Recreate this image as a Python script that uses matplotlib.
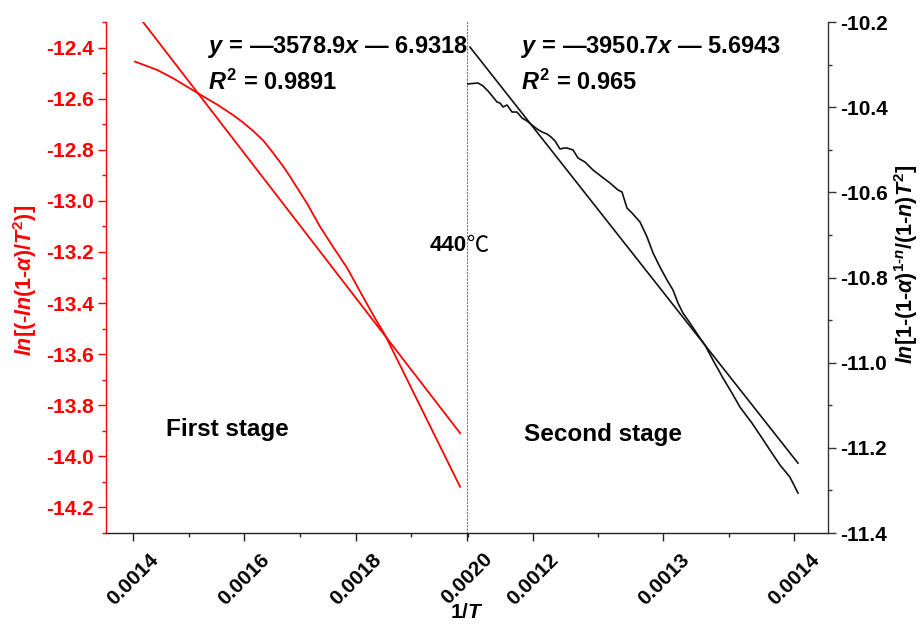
import matplotlib
matplotlib.use('Agg')
import matplotlib.pyplot as plt
from matplotlib.ticker import FixedLocator, AutoMinorLocator

plt.rcParams['font.family'] = ['Liberation Sans', 'DejaVu Sans']
plt.rcParams['font.weight'] = 'bold'
plt.rcParams['mathtext.fontset'] = 'custom'
plt.rcParams['mathtext.rm'] = 'Liberation Sans:bold'
plt.rcParams['mathtext.it'] = 'Liberation Sans:italic:bold'
plt.rcParams['mathtext.bf'] = 'Liberation Sans:bold'
plt.rcParams['axes.unicode_minus'] = False

# ---------------- data ----------------
stage1_x = [0.0014036, 0.0014440, 0.0014719, 0.0015168, 0.0015503, 0.0015797, 0.0015982,
            0.0016156, 0.0016341, 0.0016516, 0.0016701, 0.0016821, 0.0017121, 0.0017360,
            0.0017599, 0.0017845, 0.0018079, 0.0018349, 0.0018528, 0.0019211, 0.0019876]
stage1_y = [-12.455, -12.488, -12.520, -12.579, -12.622, -12.664, -12.694,
            -12.726, -12.764, -12.812, -12.866, -12.905, -13.008, -13.101,
            -13.182, -13.262, -13.355, -13.460, -13.525, -13.826, -14.119]
fit1_x = [0.0014180, 0.0019876]
fit1_y = [-12.300, -13.909]

stage2_x = [0.0011492, 0.0011579, 0.0011617, 0.0011655, 0.0011693, 0.0011724, 0.0011747,
            0.0011770, 0.0011801, 0.0011839, 0.0011877, 0.0011916, 0.0011954, 0.0011992,
            0.0012031, 0.0012069, 0.0012107, 0.0012138, 0.0012169, 0.0012207, 0.0012238,
            0.0012261, 0.0012307, 0.0012345, 0.0012398, 0.0012460, 0.0012529, 0.0012590,
            0.0012651, 0.0012682, 0.0012720, 0.0012759, 0.0012820, 0.0012874, 0.0012920,
            0.0012973, 0.0013027, 0.0013073, 0.0013111, 0.0013149, 0.0013203, 0.0013264,
            0.0013318, 0.0013379, 0.0013456, 0.0013525, 0.0013586, 0.0013678, 0.0013755,
            0.0013831, 0.0013893, 0.0013969, 0.0014031]
stage2_y = [-10.3456, -10.3433, -10.3503, -10.3620, -10.3761, -10.3879, -10.3902,
            -10.3996, -10.3949, -10.4114, -10.4114, -10.4255, -10.4325, -10.4419,
            -10.4513, -10.4583, -10.4630, -10.4701, -10.4795, -10.4983, -10.4959,
            -10.4959, -10.5006, -10.5194, -10.5288, -10.5476, -10.5640, -10.5781,
            -10.5945, -10.5992, -10.6368, -10.6486, -10.6697, -10.7049, -10.7425,
            -10.7754, -10.8059, -10.8294, -10.8599, -10.8834, -10.9069, -10.9351,
            -10.9586, -10.9938, -11.0361, -11.0713, -11.1042, -11.1418, -11.1770,
            -11.2122, -11.2404, -11.2686, -11.3062]
fit2_x = [0.0011517, 0.0014031]
fit2_y = [-10.259, -11.236]

x1_ticks = [0.0014, 0.0016, 0.0018, 0.0020]
x1_labels = ['0.0014', '0.0016', '0.0018', '0.0020']
x2_ticks = [0.0012, 0.0013, 0.0014]
x2_labels = ['0.0012', '0.0013', '0.0014']
y1_ticks = [-14.2, -14.0, -13.8, -13.6, -13.4, -13.2, -13.0, -12.8, -12.6, -12.4]
y1_labels = ['-14.2', '-14.0', '-13.8', '-13.6', '-13.4', '-13.2', '-13.0', '-12.8', '-12.6', '-12.4']
y2_ticks = [-11.4, -11.2, -11.0, -10.8, -10.6, -10.4, -10.2]
y2_labels = ['-11.4', '-11.2', '-11.0', '-10.8', '-10.6', '-10.4', '-10.2']

eq1 = r'$\mathit{y}$ = —3578.9$\mathit{x}$ — 6.9318'
r2_1 = r'$\mathit{R}^2$ = 0.9891'
eq2 = r'$\mathit{y}$ = —3950.7$\mathit{x}$ — 5.6943'
r2_2 = r'$\mathit{R}^2$ = 0.965'

RED = '#FF0000'
BLK = '#111111'

fig = plt.figure(figsize=(9.22, 6.24), dpi=100)
W, H = 922, 624
L, M, R = 106, 467, 828
T, B = 22, 533
ax1 = fig.add_axes([L / W, (H - B) / H, (M - L) / W, (B - T) / H])
ax2 = fig.add_axes([M / W, (H - B) / H, (R - M) / W, (B - T) / H])
ax2.set_facecolor('none')

ax1.plot(stage1_x, stage1_y, color=RED, lw=1.3)
ax1.plot(fit1_x, fit1_y, color=RED, lw=1.3)
ax1.set_xlim(0.0013515, 0.0020)
ax1.set_ylim(-14.3, -12.3)

ax2.plot(stage2_x, stage2_y, color=BLK, lw=1.2)
ax2.plot(fit2_x, fit2_y, color=BLK, lw=1.2)
ax2.set_xlim(0.0011494, 0.0014261)
ax2.set_ylim(-11.4, -10.2)

# spines
ax1.spines['top'].set_visible(False)
ax1.spines['left'].set_color(RED)
ax1.spines['bottom'].set_color('#222222')
ax1.spines['right'].set_color('#777777')
ax1.spines['right'].set_linestyle((0, (1, 2)))
ax1.spines['right'].set_linewidth(0.8)
ax1.spines['right'].set_zorder(5)
ax2.spines['top'].set_visible(False)
ax2.spines['left'].set_visible(False)
ax2.spines['bottom'].set_color('#222222')
ax2.spines['right'].set_color('#333333')
for sp in ['left', 'bottom']:
    ax1.spines[sp].set_linewidth(1.0)
for sp in ['right', 'bottom']:
    ax2.spines[sp].set_linewidth(1.0)

# ticks ax1
ax1.xaxis.set_major_locator(FixedLocator(x1_ticks))
ax1.set_xticklabels(x1_labels)
ax1.xaxis.set_minor_locator(AutoMinorLocator(2))
ax1.yaxis.set_major_locator(FixedLocator(y1_ticks))
ax1.set_yticklabels(y1_labels)
ax1.yaxis.set_minor_locator(AutoMinorLocator(2))
ax1.tick_params(axis='y', which='both', colors=RED, labelcolor=RED, direction='out')
ax1.tick_params(axis='y', which='major', length=6, width=1.0, labelsize=15, pad=3)
ax1.tick_params(axis='y', which='minor', length=3, width=1.0)
ax1.tick_params(axis='x', which='both', colors='#222222', direction='out')
ax1.tick_params(axis='x', which='major', length=6, width=1.0, labelsize=15, pad=6, labelrotation=45)
ax1.tick_params(axis='x', which='minor', length=3, width=1.0)
ax1.tick_params(right=False, top=False, which='both')

ax2.xaxis.set_major_locator(FixedLocator(x2_ticks))
ax2.set_xticklabels(x2_labels)
ax2.xaxis.set_minor_locator(AutoMinorLocator(2))
ax2.yaxis.set_major_locator(FixedLocator(y2_ticks))
ax2.set_yticklabels(y2_labels)
ax2.yaxis.set_minor_locator(AutoMinorLocator(2))
ax2.yaxis.tick_right()
ax2.tick_params(axis='y', which='both', colors='#333333', labelcolor='black', direction='out')
ax2.tick_params(axis='y', which='major', length=6, width=1.0, labelsize=15, pad=3)
ax2.tick_params(axis='y', which='minor', length=3, width=1.0)
ax2.tick_params(axis='x', which='both', colors='#222222', direction='out')
ax2.tick_params(axis='x', which='major', length=6, width=1.0, labelsize=15, pad=6, labelrotation=45)
ax2.tick_params(axis='x', which='minor', length=3, width=1.0)
ax2.tick_params(left=False, top=False, which='both')

for ax in (ax1, ax2):
    for lab in ax.get_xticklabels():
        lab.set_color('black')
        lab.set_fontweight('bold')
    for lab in ax.get_yticklabels():
        lab.set_fontweight('bold')

# annotations
ax1.text(0.2825, 0.951, eq1, transform=ax1.transAxes, fontsize=17, va='center', ha='left', color='black')
ax1.text(0.2825, 0.882, r2_1, transform=ax1.transAxes, fontsize=17, va='center', ha='left', color='black')
ax2.text(0.1496, 0.951, eq2, transform=ax2.transAxes, fontsize=17, va='center', ha='left', color='black')
ax2.text(0.1496, 0.882, r2_2, transform=ax2.transAxes, fontsize=17, va='center', ha='left', color='black')
ax1.text(0.166, 0.2016, 'First stage', transform=ax1.transAxes, fontsize=17.5, va='center', ha='left')
ax2.text(0.158, 0.1918, 'Second stage', transform=ax2.transAxes, fontsize=17.5, va='center', ha='left')
ax1.text(1.0, 0.5636, '440', transform=ax1.transAxes, fontsize=16, va='center', ha='right')
ax1.text(1.0, 0.5636, '℃', transform=ax1.transAxes, fontsize=16, va='center', ha='left',
         family=['Noto Sans CJK SC', 'DejaVu Sans'], fontweight='light')

fig.text(25 / W, (H - 280) / H,
         r'$\mathit{ln}$[(-$\mathit{ln}$(1-$\mathit{α}$)/$\mathit{T}^2$)]',
         rotation=90, color=RED, fontsize=15.5, ha='center', va='center')
fig.text(906 / W, (H - 264) / H,
         r'$\mathit{ln}$[1-(1-$\mathit{α}$)$^{1\text{-}n}$/(1-$\mathit{n}$)$\mathit{T}^2$]',
         rotation=90, color='black', fontsize=15.5, ha='center', va='center')
fig.text(467 / W, (H - 612) / H, r'1/$\mathit{T}$', fontsize=15, ha='center', va='center')

fig.savefig('out.png', dpi=100)
